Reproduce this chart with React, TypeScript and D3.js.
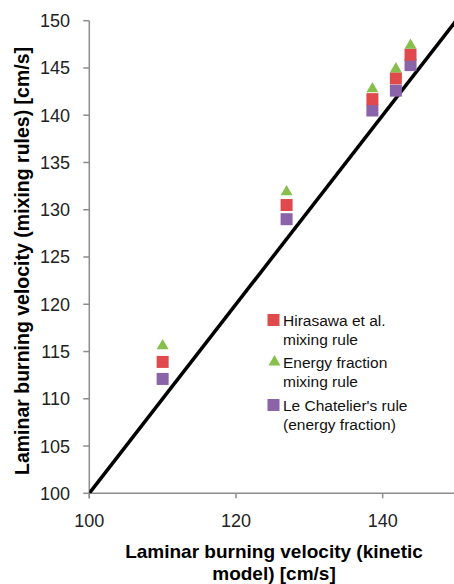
import React from "react";
import * as d3 from "d3";

const kineticModel = [110.0, 126.9, 138.6, 141.8, 143.8];
const hirasawa = [113.9, 130.5, 141.7, 143.9, 146.4];
const energyFraction = [115.7, 132.0, 142.9, 145.0, 147.5];
const leChatelier = [112.1, 129.0, 140.5, 142.6, 145.3];
const xTicks = [100, 120, 140];
const yTicks = [100, 105, 110, 115, 120, 125, 130, 135, 140, 145, 150];
const legendLabels = [
  ["Hirasawa et al.", "mixing rule"],
  ["Energy fraction", "mixing rule"],
  ["Le Chatelier's rule", "(energy fraction)"],
];

const RED = "#E04A4D";
const GREEN = "#88BE4C";
const PURPLE = "#8A63A9";

export default function App() {
  const W = 454;
  const H = 584;
  const x = d3.scaleLinear().domain([100, 150]).range([89.3, 456]);
  const y = d3.scaleLinear().domain([100, 150]).range([493.3, 20.7]);
  const tickFont = "'Liberation Sans', Arial, sans-serif";
  const sq = 12;
  const tri = d3.symbol().type(d3.symbolTriangle).size(62)();

  const square = (cx: number, cy: number, fill: string, key: string) => (
    <rect key={key} x={cx - sq / 2} y={cy - sq / 2} width={sq} height={sq} fill={fill} />
  );
  const triangle = (cx: number, cy: number, key: string) => (
    <path key={key} d={tri} transform={`translate(${cx},${cy + 1})`} fill={GREEN} />
  );

  const legendX = 273.5;
  const legendY = [320, 362, 405];
  const legendTextX = 283;

  return (
    <svg
      width={W}
      height={H}
      style={{ position: "absolute", left: 0, top: 0, background: "#fff" }}
    >
      <defs>
        <clipPath id="plot">
          <rect x={x(100)} y={y(150) - 2} width={W - x(100)} height={y(100) - y(150) + 2} />
        </clipPath>
      </defs>
      {/* axes */}
      <line x1={x(100)} x2={W} y1={y(100)} y2={y(100)} stroke="#8c8c8c" strokeWidth={1.5} />
      <line x1={x(100)} x2={x(100)} y1={y(150)} y2={y(100) + 5} stroke="#8c8c8c" strokeWidth={1.5} />
      {yTicks.map((t) => (
        <g key={"yt" + t}>
          <line x1={x(100) - 6} x2={x(100)} y1={y(t)} y2={y(t)} stroke="#8c8c8c" strokeWidth={1.5} />
          <text
            x={70}
            y={y(t)}
            dy="0.36em"
            textAnchor="end"
            fontFamily={tickFont}
            fontSize={18}
            fill="#222"
          >
            {t}
          </text>
        </g>
      ))}
      {xTicks.map((t) => (
        <g key={"xt" + t}>
          <line x1={x(t)} x2={x(t)} y1={y(100)} y2={y(100) + 5} stroke="#8c8c8c" strokeWidth={1.5} />
          <text
            x={x(t)}
            y={527}
            textAnchor="middle"
            fontFamily={tickFont}
            fontSize={18}
            fill="#222"
          >
            {t}
          </text>
        </g>
      ))}
      {/* diagonal */}
      <g clipPath="url(#plot)">
        <line x1={x(100)} y1={y(100)} x2={x(150)} y2={y(150)} stroke="#000" strokeWidth={3.5} />
      </g>
      {/* data */}
      {kineticModel.map((k, i) => square(x(k), y(leChatelier[i]), PURPLE, "p" + i))}
      {kineticModel.map((k, i) => square(x(k), y(hirasawa[i]), RED, "r" + i))}
      {kineticModel.map((k, i) => triangle(x(k), y(energyFraction[i]), "g" + i))}
      {/* legend */}
      {square(legendX, legendY[0], RED, "lr")}
      {triangle(legendX + 1, legendY[1] - 1, "lg")}
      {square(legendX, legendY[2], PURPLE, "lp")}
      {legendLabels.map((lines, i) => (
        <text
          key={"lt" + i}
          fontFamily="'Liberation Sans', Arial, sans-serif"
          fontSize={15.5}
          fill="#111"
        >
          <tspan x={legendTextX} y={legendY[i] + 5.5}>
            {lines[0]}
          </tspan>
          <tspan x={legendTextX} y={legendY[i] + 24.5}>
            {lines[1]}
          </tspan>
        </text>
      ))}
      {/* axis titles */}
      <text
        transform={`translate(28.5,261) rotate(-90)`}
        textAnchor="middle"
        fontFamily="'Liberation Sans', Arial, sans-serif"
        fontWeight="bold"
        fontSize={19.5}
        fill="#000"
      >
        Laminar burning velocity (mixing rules) [cm/s]
      </text>
      <text
        textAnchor="middle"
        fontFamily="'Liberation Sans', Arial, sans-serif"
        fontWeight="bold"
        fontSize={19}
        fill="#000"
      >
        <tspan x={274} y={558}>
          Laminar burning velocity (kinetic
        </tspan>
        <tspan x={274} y={580}>
          model) [cm/s]
        </tspan>
      </text>
    </svg>
  );
}
